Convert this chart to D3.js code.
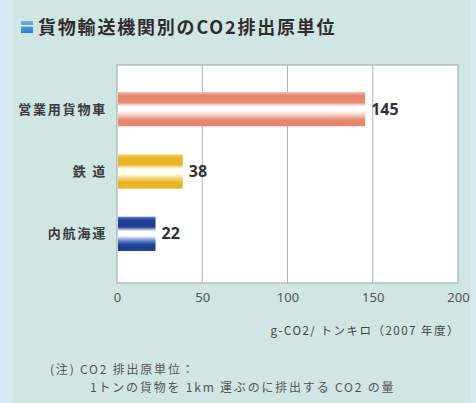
<!DOCTYPE html>
<html>
<head>
<meta charset="utf-8">
<script src="https://cdn.jsdelivr.net/npm/d3@7"></script>
<style>
  html, body { margin: 0; padding: 0; background: #d6ebf1; }
  svg { display: block; font-family: "Noto Sans CJK JP", "Noto Sans", sans-serif; }
</style>
</head>
<body>
<svg id="chart"></svg>
<script>
// data
const categories = ['営業用貨物車', '鉄 道', '内航海運'];
const values = [145, 38, 22];
const xTicks = [0, 50, 100, 150, 200];
const barColors = [
    { edge: '#e6876f', mid: '#f4bfad' },
    { edge: '#ebb521', mid: '#f6d67a' },
    { edge: '#1f3f98', mid: '#5f86c9' }
];

const width = 476, height = 403;
const svg = d3.select('#chart').attr('width', width).attr('height', height);

// panel background
svg.append('rect').attr('x', 13).attr('y', 0).attr('width', 458).attr('height', height).attr('fill', '#cfe6e2');

// title with little icon
const iconGrad = svg.append('defs').append('linearGradient')
    .attr('id', 'icon').attr('x1', 0).attr('x2', 0).attr('y1', 0).attr('y2', 1);
iconGrad.append('stop').attr('offset', '0%').attr('stop-color', '#6fb3e6');
iconGrad.append('stop').attr('offset', '100%').attr('stop-color', '#2a7fc9');
svg.append('rect').attr('x', 21).attr('y', 21).attr('width', 12).attr('height', 12).attr('fill', 'url(#icon)');
svg.append('rect').attr('x', 21).attr('y', 25).attr('width', 12).attr('height', 1.5).attr('fill', '#e8f4fb');

svg.append('text').attr('x', 38).attr('y', 34)
    .attr('font-size', 18).attr('font-weight', 'bold').attr('fill', '#2d2d2d')
    .attr('letter-spacing', 1.8)
    .text('貨物輸送機関別のCO2排出原単位');

// scales
const x = d3.scaleLinear().domain([0, 200]).range([117, 458]);
const y = d3.scaleBand().domain(categories).range([78, 265]).paddingInner(0.45).paddingOuter(0.225);
const plotTop = 65, plotBottom = 283;

// plot area
svg.append('rect').attr('x', x(0)).attr('y', plotTop)
    .attr('width', x(200) - x(0)).attr('height', plotBottom - plotTop)
    .attr('fill', '#ffffff').attr('stroke', '#9aa6a6').attr('stroke-width', 1);

svg.append('g').selectAll('line')
    .data(xTicks.slice(1, -1))
    .join('line')
    .attr('x1', d => x(d)).attr('x2', d => x(d))
    .attr('y1', plotTop).attr('y2', plotBottom)
    .attr('stroke', '#a9b3b3').attr('stroke-width', 1);

// striped gradients for the bars
const defs = svg.append('defs');
barColors.forEach((c, i) => {
    const g = defs.append('linearGradient').attr('id', 'bar' + i)
        .attr('x1', 0).attr('x2', 0).attr('y1', 0).attr('y2', 1);
    [[0, c.mid], [0.1, c.edge], [0.3, c.edge], [0.42, '#ffffff'], [0.56, '#ffffff'], [0.7, c.mid], [0.82, c.edge], [1, c.edge]]
        .forEach(s => g.append('stop').attr('offset', s[0]).attr('stop-color', s[1]));
});

svg.append('g').selectAll('rect')
    .data(values)
    .join('rect')
    .attr('x', x(0) + 1)
    .attr('y', (d, i) => y(categories[i]))
    .attr('width', d => x(d) - x(0))
    .attr('height', y.bandwidth())
    .attr('fill', (d, i) => `url(#bar${i})`);

// value labels
svg.append('g').selectAll('text')
    .data(values)
    .join('text')
    .attr('x', d => x(d) + 7)
    .attr('y', (d, i) => y(categories[i]) + y.bandwidth() / 2)
    .attr('dy', '0.35em')
    .attr('font-size', 16).attr('font-weight', 'bold').attr('fill', '#333')
    .attr('font-family', '"Noto Sans", sans-serif')
    .text(d => d);

// category labels
svg.append('g').selectAll('text')
    .data(categories)
    .join('text')
    .attr('x', 107)
    .attr('y', d => y(d) + y.bandwidth() / 2)
    .attr('dy', '0.35em')
    .attr('text-anchor', 'end')
    .attr('font-size', 13).attr('font-weight', 'bold').attr('fill', '#3a3a3a')
    .attr('letter-spacing', 1.8)
    .text(d => d);

// x axis ticks
const xAxis = d3.axisBottom(x).tickValues(xTicks).tickSize(0).tickPadding(10);
const ax = svg.append('g').attr('transform', `translate(0,${plotBottom})`).call(xAxis);
ax.select('.domain').remove();
ax.selectAll('text').attr('font-size', 13).attr('fill', '#555').attr('font-family', '"Noto Sans", sans-serif');

// axis unit
svg.append('text').attr('x', 460).attr('y', 335).attr('text-anchor', 'end')
    .attr('font-size', 11.5).attr('fill', '#444').attr('letter-spacing', 1.5)
    .text('g-CO2/ トンキロ（2007 年度）');

// note
svg.append('text').attr('x', 50).attr('y', 374)
    .attr('font-size', 12).attr('fill', '#555').attr('letter-spacing', 1.8)
    .text('(注) CO2 排出原単位：');
svg.append('text').attr('x', 90).attr('y', 392)
    .attr('font-size', 12).attr('fill', '#555').attr('letter-spacing', 1.8)
    .text('1トンの貨物を 1km 運ぶのに排出する CO2 の量');
</script>
</body>
</html>
